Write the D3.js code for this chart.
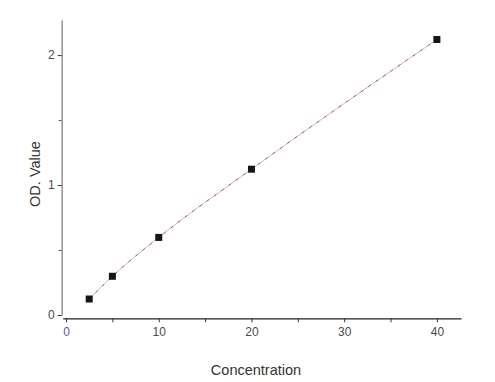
<!DOCTYPE html>
<html>
<head>
<meta charset="utf-8">
<script src="https://cdn.jsdelivr.net/npm/d3@7"></script>
<style>
html,body{margin:0;padding:0;background:#fff;}
svg{display:block;font-family:"Liberation Sans",Arial,sans-serif;}
</style>
</head>
<body>
<svg id="chart" width="495" height="382"></svg>
<script>
const concentration = [2.5, 5, 10, 20, 40];
const odValue = [0.123, 0.298, 0.597, 1.122, 2.12];
const xTicks = [0, 10, 20, 30, 40];
const xMinorTicks = [5, 15, 25, 35];
const yTicks = [0, 1, 2];
const yMinorTicks = [0.5, 1.5];

const svg = d3.select("#chart");
const x = d3.scaleLinear().domain([-0.36, 42.6]).range([62.7, 461]);
const y = d3.scaleLinear().domain([0, 2.27]).range([315, 20]);

// Y axis
const yAxisG = svg.append("g").attr("transform", "translate(61.7,0)")
  .call(d3.axisLeft(y).tickValues(yTicks).tickFormat(d3.format("d")).tickSize(4).tickPadding(3).tickSizeOuter(0));
yAxisG.select(".domain").attr("stroke", "#999").attr("stroke-width", 1.6);
yAxisG.selectAll(".tick line").attr("stroke", "#333");
yAxisG.selectAll(".tick text").attr("fill", "#4a4a4a").style("font-size", "12px");
svg.append("g").attr("transform", "translate(61.7,0)")
  .call(d3.axisLeft(y).tickValues(yMinorTicks).tickFormat("").tickSize(3).tickSizeOuter(0))
  .call(g => g.select(".domain").remove())
  .selectAll("line").attr("stroke", "#555");

// X axis
const xAxisG = svg.append("g").attr("transform", "translate(0,318.3)")
  .call(d3.axisBottom(x).tickValues(xTicks).tickFormat(d3.format("d")).tickSize(4).tickPadding(5).tickSizeOuter(0));
xAxisG.select(".domain").attr("stroke", "#222").attr("stroke-width", 1.2);
xAxisG.selectAll(".tick line").attr("stroke", "#333");
xAxisG.selectAll(".tick text").attr("fill", (d) => d === 0 ? "#5a5a9a" : "#4a4a4a").style("font-size", "12px");
svg.append("g").attr("transform", "translate(0,318.3)")
  .call(d3.axisBottom(x).tickValues(xMinorTicks).tickFormat("").tickSize(4).tickSizeOuter(0))
  .call(g => g.select(".domain").remove())
  .selectAll("line").attr("stroke", "#333");

// Fit line: light pink line with dark dashes overlaid
const pts = concentration.map((c, i) => [c, odValue[i]]);
const lineGen = d3.line().x(d => x(d[0])).y(d => y(d[1])).curve(d3.curveMonotoneX);
svg.append("path")
  .datum(pts)
  .attr("fill", "none")
  .attr("stroke", "#e7a3b8")
  .attr("stroke-width", 0.9)
  .attr("d", lineGen);
svg.append("path")
  .datum(pts)
  .attr("fill", "none")
  .attr("stroke", "#555")
  .attr("stroke-width", 0.8)
  .attr("stroke-dasharray", "3,6")
  .attr("d", lineGen);

// Markers
svg.append("g").selectAll("rect")
  .data(pts)
  .join("rect")
  .attr("x", d => x(d[0]) - 3.5)
  .attr("y", d => y(d[1]) - 3.5)
  .attr("width", 7)
  .attr("height", 7)
  .attr("fill", "#151515");

// Axis titles
svg.append("text")
  .attr("transform", `translate(36,174) rotate(-90)`)
  .attr("text-anchor", "middle")
  .attr("dominant-baseline", "middle")
  .attr("fill", "#333")
  .style("font-size", "14.5px")
  .text("OD. Value");

svg.append("text")
  .attr("x", 256)
  .attr("y", 375)
  .attr("text-anchor", "middle")
  .attr("fill", "#333")
  .style("font-size", "14.5px")
  .text("Concentration");
</script>
</body>
</html>
